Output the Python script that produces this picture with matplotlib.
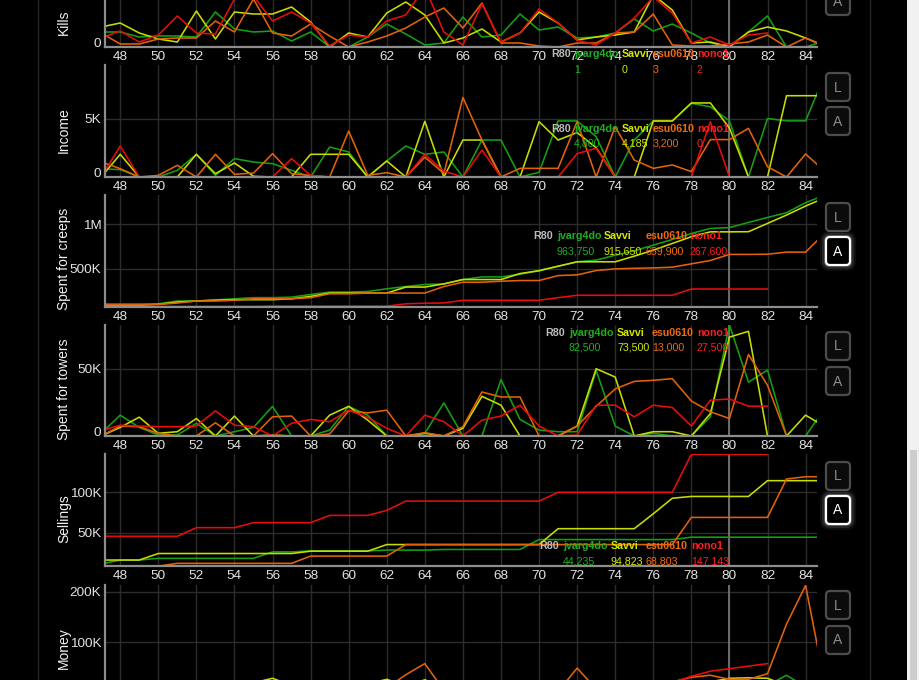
import numpy as np
import matplotlib.pyplot as plt
from matplotlib.patches import FancyBboxPatch, Rectangle

plt.rcParams['font.family'] = ['Liberation Sans', 'DejaVu Sans']

# =============================================================================
#                               Data (rounds 47..85)
# =============================================================================

rounds = np.arange(47, 86)
players = ['jvarg4do', 'Savvi', 'esu0610', 'nono1']
line_colors = ['#14a014', '#c8dc00', '#e2620a', '#e80c0c']
text_colors = ['#20ae20', '#d4e800', '#f06a10', '#ff1e1e']
sel_round = 80

# nono1 stops after round 82
kills_jvarg4do = [15, 15, 10, 11, 11, 10, 35, 18, 15, 16, 6, 15, 0, 0, 10, 23, 13, 2, 4,
                  30, 10, 12, 33, 17, 20, 9, 10, 14, 28, 16, 23, 14, 4, 1, 15, 31, 0, 0, 6]
kills_savvi = [20, 24, 14, 8, 5, 36, 8, 35, 33, 33, 40, 25, 0, 14, 10, 34, 45, 32, 4,
               9, 18, 5, 14, 35, 24, 7, 10, 12, 15, 52, 37, 4, 5, 0, 15, 20, 16, 9, 1]
kills_esu0610 = [14, 3, 3, 8, 9, 9, 26, 15, 48, 14, 11, 23, 11, 0, 5, 11, 19, 30, 39,
                 19, 44, 4, 4, 1, 0, 4, 4, 14, 15, 33, 2, 1, 1, 3, 5, 12, 0, 9, 1]
kills_nono1 = [9, 16, 5, 12, 31, 14, 13, 48, 51, 26, 35, 24, 1, 12, 10, 26, 32, 60, 15,
               2, 43, 5, 14, 38, 24, 7, 2, 14, 29, 50, 34, 4, 10, 2, 12, 14]

income_jvarg4do = [700, 630, 0, 0, 570, 1940, 140, 1570, 1280, 1140, 570, 0, 2560, 2140, 0,
                   1370, 2650, 1940, 2140, 0, 3160, 3160, 0, 400, 4790, 4790, 3450, 0, 3160,
                   4790, 4790, 6300, 6000, 4800, 0, 5000, 4800, 4800, 8700]
income_savvi = [0, 1940, 0, 0, 0, 1940, 280, 1200, 60, 0, 0, 1940, 1940, 1940, 0, 1370, 0,
                4760, 0, 3160, 3160, 0, 0, 4730, 3160, 3800, 2500, 0, 0, 4790, 4790, 6330,
                6330, 4185, 0, 0, 6950, 6950, 6950]
income_esu0610 = [1300, 710, 0, 140, 1000, 0, 1940, 230, 340, 2000, 280, 140, 0, 3930, 140,
                  370, 0, 1700, 300, 6800, 3160, 0, 740, 740, 740, 4740, 0, 4300, 1450, 740,
                  1030, 460, 3200, 3200, 4160, 880, 0, 1970, 500]
income_nono1 = [0, 2650, 0, 0, 0, 0, 0, 0, 0, 0, 1570, 140, 0, 0, 0, 0, 0, 1940, 500, 0,
                2300, 0, 0, 0, 0, 2000, 2450, 0, 0, 0, 0, 0, 4730, 0, 0, 0]

# thousands
creeps_jvarg4do = [94, 94, 94, 100, 132, 132, 145, 157, 170, 170, 176, 206, 233, 233, 240,
                   270, 296, 319, 326, 375, 405, 405, 435, 480, 526, 576, 595, 651, 700, 765,
                   829, 897, 954, 963.75, 1022, 1079, 1132, 1246, 1330]
creeps_savvi = [83, 83, 83, 94, 120, 132, 140, 147, 147, 147, 157, 184, 222, 222, 222, 222,
                290, 290, 326, 375, 375, 375, 443, 474, 526, 576, 576, 576, 640, 708, 784,
                860, 915.65, 915.65, 917, 1011, 1106, 1208, 1300]
creeps_esu0610 = [94, 94, 94, 94, 109, 132, 132, 140, 157, 157, 157, 170, 214, 214, 222, 222,
                  222, 222, 296, 345, 345, 356, 364, 364, 420, 428, 477, 496, 503, 507, 515,
                  553, 591, 659.9, 659.9, 662, 686, 686, 900]
creeps_nono1 = [70, 70, 70, 70, 70, 70, 70, 70, 70, 74, 74, 74, 74, 74, 74, 74, 100, 107, 110,
                140, 140, 140, 140, 140, 170, 197, 197, 197, 197, 197, 197, 267.6, 267.6,
                267.6, 267.6, 267.6]

towers_jvarg4do = [2, 15.5, 6.4, 0.7, 0.7, 9.4, 0, 3.2, 6.4, 22, 0, 0, 4.4, 22, 15.5, 0, 0, 2,
                   24.6, 0, 0, 41.9, 12.3, 4.4, 3.2, 3.2, 48.7, 7.4, 0, 2, 0, 0, 14.3, 82.5,
                   40, 49, 0, 0, 20.5]
towers_savvi = [0, 6.4, 14, 2, 3.2, 13, 0, 14.8, 0, 0.7, 0, 0, 15.5, 22, 11.8, 0, 0, 2, 0,
                5.7, 29.5, 22.9, 0, 0, 0, 7.4, 50, 43.8, 0, 3.2, 3.2, 0, 16.7, 73.5, 77.8, 0,
                0, 15.5, 7]
towers_esu0610 = [0, 7.4, 6.9, 2, 0, 0, 9.8, 0, 0, 14.3, 14.8, 0, 1.5, 18.7, 17.2, 19.2, 0,
                  2.5, 0, 6.9, 32.7, 29, 29, 0, 0, 7.4, 22, 35, 40.6, 41.4, 42.6, 26, 18, 13,
                  60.6, 37.7, 0, 0, 0]
towers_nono1 = [4, 8, 7.4, 6.9, 6.9, 7.4, 18.7, 8, 6.9, 0, 9.4, 12.3, 10.6, 19.2, 13.8, 5.7,
                0, 15.5, 10.6, 0, 11.8, 14.8, 22.9, 7.4, 0, 0.7, 22.9, 22.9, 14.3, 22.9, 21.2,
                7.4, 26.6, 27.5, 22.2, 22.2]

sellings_jvarg4do = [11, 15.9, 15.9, 18, 18, 18, 18, 18, 18, 26, 26, 27.3, 27.3, 27.3, 27.3,
                     28.2, 28.2, 28.2, 29, 29, 29, 29, 29, 41.3, 41.3, 41.3, 41.3, 41.3, 41.3,
                     41.3, 41.3, 44.235, 44.235, 44.235, 44.235, 44.235, 44.235, 44.235, 44.235]
sellings_savvi = [15.9, 15.9, 15.9, 24, 24, 24, 24, 24, 24, 24, 24, 26.9, 26.9, 26.9, 26.9,
                  35.1, 35.1, 35.1, 35.1, 35.1, 35.1, 35.1, 35.1, 35.1, 54.8, 54.8, 54.8,
                  54.8, 54.8, 73.3, 92.6, 94.823, 94.823, 94.823, 94.823, 114.4, 114.4,
                  114.4, 114.4]
sellings_esu0610 = [8.3, 8.3, 8.3, 8.3, 11.8, 11.8, 11.8, 11.8, 11.8, 11.8, 11.8, 20.8, 20.8,
                    20.8, 20.8, 20.8, 35.1, 35.1, 35.1, 35.1, 35.1, 35.1, 35.1, 35.1, 35.1,
                    35.1, 35.1, 35.1, 35.1, 35.1, 35.1, 68.803, 68.803, 68.803, 68.803,
                    68.803, 116.5, 119.3, 119.3]
sellings_nono1 = [45.4, 45.4, 45.4, 45.4, 45.4, 56.1, 56.1, 56.1, 62.3, 62.3, 62.3, 62.3,
                  71.3, 71.3, 71.3, 77.5, 89, 89, 89, 89, 89, 89, 89, 89, 100, 100, 100, 100,
                  100, 100, 100, 147.143, 147.143, 147.143, 147.143, 147.143]

money_jvarg4do = [12, 15, 8, 10, 14, 9, 18, 12, 16, 20, 10, 14, 8, 12, 15, 18, 10, 22, 14, 9,
                  12, 16, 10, 14, 8, 12, 15, 10, 12, 8, 14, 18, 12, 20, 18, 15, 35, 12, 22]
money_savvi = [10, 14, 12, 16, 9, 12, 18, 14, 20, 29, 15, 10, 12, 16, 18, 27, 14, 26, 12, 10,
               15, 12, 18, 14, 10, 16, 12, 18, 14, 10, 15, 20, 22, 29, 30, 29, 15, 10, 12]
money_esu0610 = [8, 12, 15, 10, 14, 18, 12, 9, 16, 12, 10, 14, 18, 12, 8, 10, 36, 58, 5, 10,
                 14, 8, 12, 10, 3, 49, 8, 12, 10, 10, 22, 31, 35, 27, 27, 38, 136, 212, 20]
money_nono1 = [14, 10, 16, 12, 8, 15, 10, 12, 18, 14, 10, 16, 12, 18, 14, 10, 12, 20, 8, 12,
               16, 10, 14, 22, 12, 16, 14, 10, 12, 16, 20, 33, 43, 48, 53, 58]

panel_names = ['Kills', 'Income', 'Spent for creeps', 'Spent for towers', 'Sellings', 'Money']
panel_data = [
    [kills_jvarg4do, kills_savvi, kills_esu0610, kills_nono1],
    [income_jvarg4do, income_savvi, income_esu0610, income_nono1],
    [creeps_jvarg4do, creeps_savvi, creeps_esu0610, creeps_nono1],
    [towers_jvarg4do, towers_savvi, towers_esu0610, towers_nono1],
    [sellings_jvarg4do, sellings_savvi, sellings_esu0610, sellings_nono1],
    [money_jvarg4do, money_savvi, money_esu0610, money_nono1],
]
panel_scale = [1, 1, 1000, 1000, 1000, 1000]
panel_ylim = [(0, 112), (0, 9575), (64e3, 1333e3), (0, 82.5e3), (8.5e3, 147.5e3), (0, 213e3)]
panel_yticks = [[0], [0, 5000], [500e3, 1e6], [0, 50e3], [50e3, 100e3], [100e3, 200e3]]
panel_yticklabels = [['0'], ['0', '5K'], ['500K', '1M'], ['0', '50K'],
                     ['50K', '100K'], ['100K', '200K']]

# =============================================================================
#                               Layout (pixels)
# =============================================================================

W, H = 920, 680
X0, X1 = 105, 817
panel_px = [(-65, 47), (65, 177), (195, 307), (325, 436), (454, 566), (585, 693)]
ylabel_y = [22, 130, 259, 389, 519, 648]
legend_pos = [(54, 70, [551, 574, 622, 653, 697]),
              (129, 144, [551, 574, 622, 653, 697]),
              (236, 252, [533, 557, 604, 646, 690]),
              (333, 347, [545, 569, 617, 652, 697]),
              (546, 561, [539, 563, 611, 646, 691]),
              None]
buttons = [(-13, 'A', False), (73, 'L', False), (107, 'A', False), (203, 'L', False),
           (237, 'A', True), (332, 'L', False), (367, 'A', False), (462, 'L', False),
           (496, 'A', True), (591, 'L', False), (626, 'A', False)]

fig = plt.figure(figsize=(W / 100, H / 100), dpi=100, facecolor='black')

for i in range(len(panel_names)):
    top, bot = panel_px[i]
    ax = fig.add_axes([X0 / W, 1 - bot / H, (X1 - X0) / W, (bot - top) / H])
    ax.set_facecolor('black')
    ax.set_xlim(47.2, 84.6)
    ax.set_ylim(*panel_ylim[i])
    ax.set_xticks(range(48, 85, 2))
    ax.set_yticks(panel_yticks[i])
    ax.set_yticklabels(panel_yticklabels[i])
    ax.grid(True, color='#2c2c2c', lw=1)
    ax.set_axisbelow(True)
    for s in ['top', 'right']:
        ax.spines[s].set_visible(False)
    for s in ['left', 'bottom']:
        ax.spines[s].set_color('#8d8d8d')
        ax.spines[s].set_linewidth(1.6)
    ax.tick_params(length=0, labelcolor='#e2e2e2', labelsize=9.7)
    ax.tick_params(axis='x', pad=3.2, labelbottom=(bot < H))
    ax.tick_params(axis='y', pad=2.6)
    for t in ax.yaxis.get_major_ticks():
        if t.label1.get_text() == '0':
            t.label1.set_verticalalignment('baseline')
    ax.axvline(sel_round, color='#6c6c6c', lw=1.4, zorder=1.5)
    for vals, c in zip(panel_data[i], line_colors):
        v = np.array(vals, dtype=float) * panel_scale[i]
        ax.plot(rounds[:len(v)], v, color=c, lw=1.15, zorder=2)

# =============================================================================
#                     Overlay: labels, legends, buttons, page
# =============================================================================

ov = fig.add_axes([0, 0, 1, 1])
ov.set_xlim(0, W)
ov.set_ylim(H, 0)
ov.axis('off')
ov.patch.set_alpha(0)

ov.plot([38, 38], [0, H], color='#252525', lw=1)
ov.plot([870, 870], [0, H], color='#252525', lw=1)
ov.add_patch(Rectangle((907, 0), 13, H, color='#f1f1f1', lw=0))
ov.add_patch(Rectangle((910, 450), 7.5, 230, color='#cdcdcd', lw=0))

for i, name in enumerate(panel_names):
    ov.text(64, ylabel_y[i], name, rotation=90, ha='center', va='center',
            color='#f2f2f2', fontsize=10)
    lp = legend_pos[i]
    if lp is None:
        continue
    ry, vy, xs = lp
    ov.text(xs[0], ry, 'R%d' % sel_round, color='#bdbdbd', fontsize=7.7,
            fontweight='bold', va='center', ha='left')
    k = sel_round - rounds[0]
    for j, p in enumerate(players):
        ov.text(xs[j + 1], ry, p, color=text_colors[j], fontsize=7.7,
                fontweight='bold', va='center', ha='left')
        val = panel_data[i][j][k] * panel_scale[i]
        ov.text(xs[j + 1], vy, '{:,}'.format(int(round(val))), color=text_colors[j],
                fontsize=7.7, va='center', ha='left')

for y, letter, active in buttons:
    if active:
        for g, a in [(6, 0.06), (4, 0.1), (2, 0.18)]:
            ov.add_patch(FancyBboxPatch((826 - g, y - g), 24 + 2 * g, 28 + 2 * g,
                                        boxstyle='round,pad=0,rounding_size=%d' % (4 + g),
                                        fc='white', ec='none', alpha=a))
        ov.add_patch(FancyBboxPatch((826, y), 24, 28, boxstyle='round,pad=0,rounding_size=4',
                                    fc='black', ec='white', lw=1.6))
        tc = 'white'
    else:
        ov.add_patch(FancyBboxPatch((826, y), 24, 28, boxstyle='round,pad=0,rounding_size=4',
                                    fc='#0b0b0b', ec='#4c4c4c', lw=1.6))
        tc = '#8a8a8a'
    ov.text(838, y + 14.5, letter, color=tc, fontsize=10, ha='center', va='center')

fig.savefig('out.png', dpi=100, facecolor='black')
